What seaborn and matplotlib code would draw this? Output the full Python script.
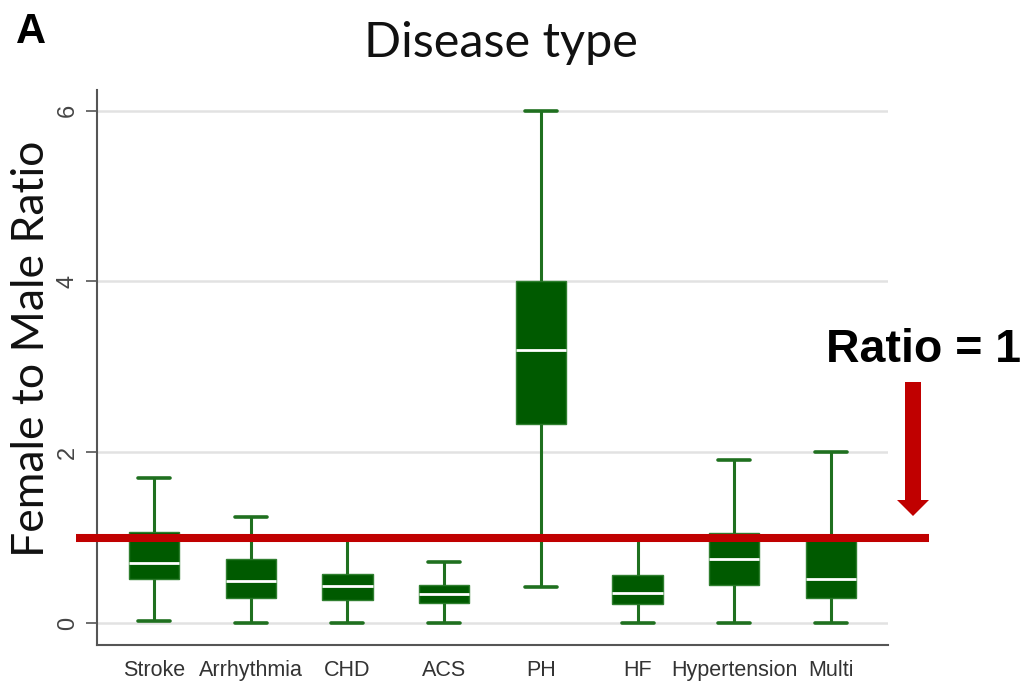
import numpy as np
import pandas as pd
import matplotlib
matplotlib.use("Agg")
import matplotlib.pyplot as plt
from matplotlib.patches import Polygon
import seaborn as sns

# ---- data (five-number summaries) ----
categories = ["Stroke", "Arrhythmia", "CHD", "ACS", "PH", "HF", "Hypertension", "Multi"]
whisker_low = [0.02, 0.00, 0.00, 0.00, 0.42, 0.00, 0.00, 0.00]
q1 = [0.52, 0.29, 0.27, 0.24, 2.33, 0.22, 0.44, 0.29]
median = [0.70, 0.49, 0.43, 0.34, 3.20, 0.35, 0.75, 0.52]
q3 = [1.07, 0.75, 0.57, 0.45, 4.00, 0.56, 1.05, 0.98]
whisker_high = [1.70, 1.24, 1.00, 0.72, 6.00, 1.02, 1.91, 2.00]
reference_ratio = 1.0
y_ticks = [0, 2, 4, 6]

rows = []
for i, c in enumerate(categories):
    for v in (whisker_low[i], q1[i], median[i], q3[i], whisker_high[i]):
        rows.append({"disease": c, "ratio": v})
df = pd.DataFrame(rows)

sns.set_style("white")
plt.rcParams["font.family"] = ["Liberation Sans", "DejaVu Sans"]

W, H = 1026, 684
fig = plt.figure(figsize=(W / 100, H / 100), dpi=100)
ax_l, ax_r, ax_t, ax_b = 97, 888, 90, 645
ax = fig.add_axes([ax_l / W, 1 - ax_b / H, (ax_r - ax_l) / W, (ax_b - ax_t) / H])

box_fill = "#005a00"
line_green = "#1f701f"
sns.boxplot(
    data=df, x="disease", y="ratio", order=categories, ax=ax,
    width=0.52, whis=(0, 100), showfliers=False, saturation=1,
    color=box_fill, linecolor=line_green, linewidth=2.2,
    boxprops=dict(facecolor=box_fill, edgecolor="#2f7f2f", linewidth=1.0),
    medianprops=dict(color="white", linewidth=2.0),
    whiskerprops=dict(color=line_green, linewidth=2.2),
    capprops=dict(color=line_green, linewidth=2.6),
    capwidths=0.33,
)

ax.set_xlim(-0.59, len(categories) - 1 + 0.59)
ax.set_ylim(-0.257, 6.24)
ax.set_yticks(y_ticks)
ax.set_yticklabels([str(t) for t in y_ticks], rotation=90, va="center",
                   fontsize=17, color="#444444")
ax.tick_params(axis="y", length=8, width=1.2, color="#555555", pad=5, left=True)
ax.tick_params(axis="x", length=0, pad=11, labelsize=15.5, labelcolor="#333333")
ax.set_xlabel("")
ax.set_ylabel("")
ax.yaxis.grid(True, color="#e2e2e2", linewidth=1.8)
ax.set_axisbelow(True)
for s in ("top", "right"):
    ax.spines[s].set_visible(False)
for s in ("left", "bottom"):
    ax.spines[s].set_color("#555555")
    ax.spines[s].set_linewidth(1.5)

# reference line at ratio = 1
ax.axhline(reference_ratio, xmin=(76 - ax_l) / (ax_r - ax_l), xmax=(929 - ax_l) / (ax_r - ax_l),
           color="#c00000", linewidth=5.8, clip_on=False, zorder=6,
           solid_capstyle="butt")

def px(x, y):
    return (x / W, 1 - y / H)

arrow = Polygon([px(905, 382), px(921, 382), px(921, 500), px(929, 500),
                 px(913, 516), px(897, 500), px(905, 500)],
                closed=True, transform=fig.transFigure, facecolor="#c00000",
                edgecolor="none")
fig.patches.append(arrow)

fig.text(*px(924, 362), "Ratio = 1", ha="center", va="baseline",
         fontsize=33.5, fontweight="bold", color="black")
fig.text(*px(16, 43), "A", ha="left", va="baseline", fontsize=30,
         fontweight="bold", color="black")
fig.text(*px(501, 57), "Disease type", ha="center", va="baseline",
         fontsize=35, family=["Lato", "DejaVu Sans"], color="#111111")
fig.text(*px(32, 349), "Female to Male Ratio", ha="center", va="center",
         rotation=90, fontsize=32, family=["Lato", "DejaVu Sans"], color="#111111")

fig.savefig("out.png", dpi=100)
